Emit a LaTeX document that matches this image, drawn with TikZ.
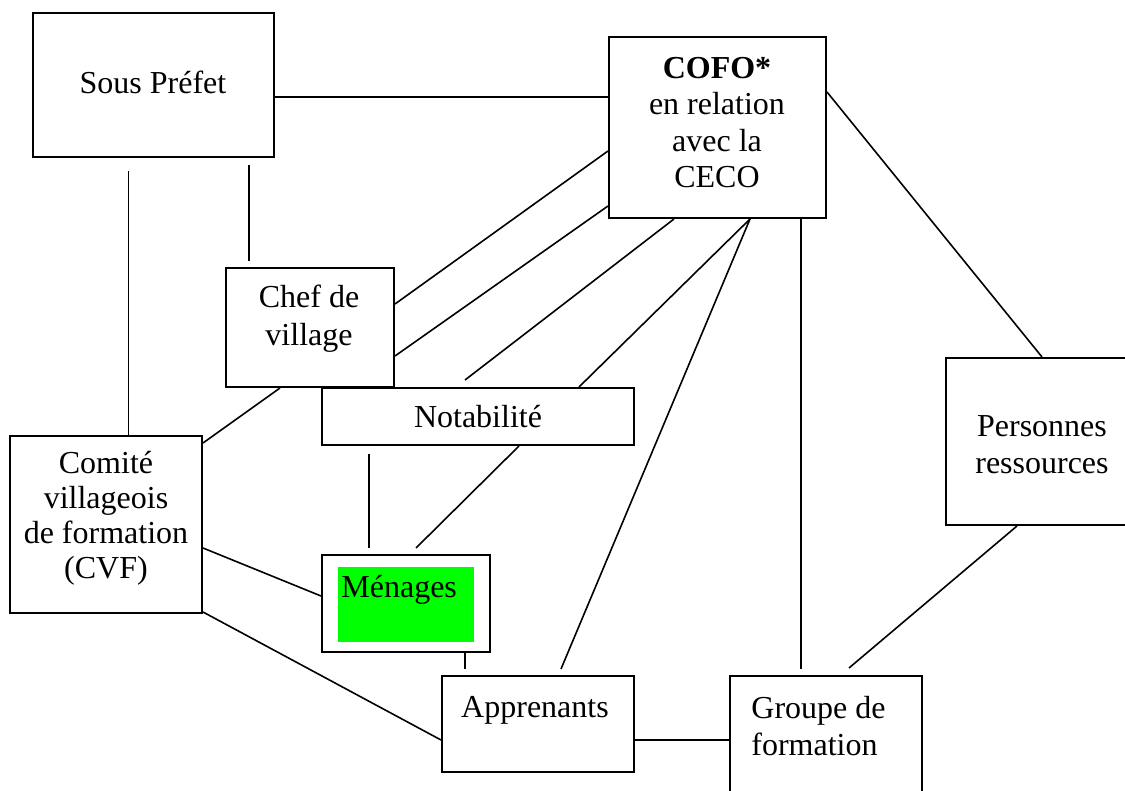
\documentclass[tikz,border=0pt]{standalone}
\usepackage{fontspec}
\setmainfont{Liberation Serif}
\usetikzlibrary{calc}
\definecolor{menagegreen}{RGB}{0,255,0}
\tikzset{
  box/.style={draw=black, line width=1pt, rectangle, inner sep=0pt},
  lbl/.style={inner sep=0pt, align=center, font=\fontsize{16}{18.5}\selectfont},
  link/.style={draw=black, line width=0.8pt},
}
\begin{document}
\begin{tikzpicture}[x=0.5pt,y=-0.5pt]
\useasboundingbox (0,0) rectangle (1125,791);
\fill[white] (0,0) rectangle (1125,791);
\clip (0,0) rectangle (1125,791);

% boxes
\node[box, minimum width=120.5pt, minimum height=72pt] (sp) at (153.5,85) {};
\node[box, minimum width=108.5pt, minimum height=90.5pt] (cofo) at (717.5,127.5) {};
\node[box, minimum width=84pt, minimum height=59.5pt] (chef) at (310,327.5) {};
\node[box, minimum width=156pt, minimum height=28.5pt] (nota) at (478,416.5) {};
\node[box, minimum width=96pt, minimum height=88.5pt] (cvf) at (106,524.5) {};
\node[box, minimum width=84pt, minimum height=48.5pt] (men) at (406,603.5) {};
\node[fill=menagegreen, inner sep=0pt, minimum width=68pt, minimum height=37.5pt] (mengreen) at (406,604.5) {};
\node[box, minimum width=96pt, minimum height=48pt] (app) at (538,724) {};
\node[box, minimum width=96pt, minimum height=67pt] (grp) at (826,743) {};
\node[box, minimum width=96pt, minimum height=83.5pt] (pers) at (1042,441.5) {};

% texts
\node[lbl] (tsp) at (153,82) {Sous Préfet};
\node[lbl, font=\fontsize{16}{18.25}\selectfont] (tcofo) at (717,122.5) {\textbf{COFO*}\\en relation\\avec la\\CECO};
\node[lbl, font=\fontsize{16}{19}\selectfont] (tchef) at (309,319) {Chef de\\village};
\node[lbl] (tnota) at (478,417) {Notabilité};
\node[lbl, font=\fontsize{16}{17.5}\selectfont] (tcvf) at (106,518) {Comité\\villageois\\de formation\\(CVF)};
\node[lbl, anchor=west] (tmen) at (341,590) {Ménages};
\node[lbl] (tapp) at (535,710) {Apprenants};
\node[lbl, anchor=west, align=left] (tgrp) at (751,726) {Groupe de\\formation};
\node[lbl] (tpers) at (1042,444.5) {Personnes\\ressources};

% connectors
\draw[link] ($(sp.north east)+(0,85)$) -- ($(cofo.north west)+(0,61)$);
\draw[link] ($(sp.south west)+(96.5,13)$) -- ($(cvf.north west)+(119.5,0)$);
\draw[link] ($(sp.south west)+(217,7)$) -- ($(chef.north west)+(24,-6)$);
\draw[link] ($(cofo.north west)+(0,115)$) -- ($(chef.north east)+(0,37)$);
\draw[link] ($(cofo.north west)+(0,170)$) -- ($(chef.north east)+(0,89)$);
\draw[link] ($(cofo.south west)+(66,0)$) -- ($(nota.north west)+(144,-7)$);
\draw[link] ($(cofo.south west)+(142,0)$) -- ($(nota.north west)+(258,0)$);
\draw[link] ($(cofo.south west)+(142,0)$) -- ($(app.north west)+(120,-6)$);
\draw[link] ($(cofo.south west)+(193,0)$) -- ($(grp.north west)+(72,-6)$);
\draw[link] ($(cofo.north east)+(0,56)$) -- (pers.north);
\draw[link] ($(chef.south west)+(55,0)$) -- ($(cvf.north east)+(0,8)$);
\draw[link] ($(nota.south west)+(48,8)$) -- ($(men.north west)+(48,-6)$);
\draw[link] ($(nota.south west)+(198,0)$) -- ($(men.north west)+(95,-6)$);
\draw[link] ($(cvf.north east)+(0,113)$) -- ($(men.north west)+(0,42)$);
\draw[link] ($(cvf.south east)+(0,-2)$) -- ($(app.north west)+(0,65)$);
\draw[link] ($(men.south west)+(144,0)$) -- ($(app.north west)+(24,-6)$);
\draw[link] ($(app.north east)+(0,65)$) -- ($(grp.north west)+(0,65)$);
\draw[link] ($(pers.south west)+(72,0)$) -- ($(grp.north west)+(120,-7)$);
\end{tikzpicture}
\end{document}
